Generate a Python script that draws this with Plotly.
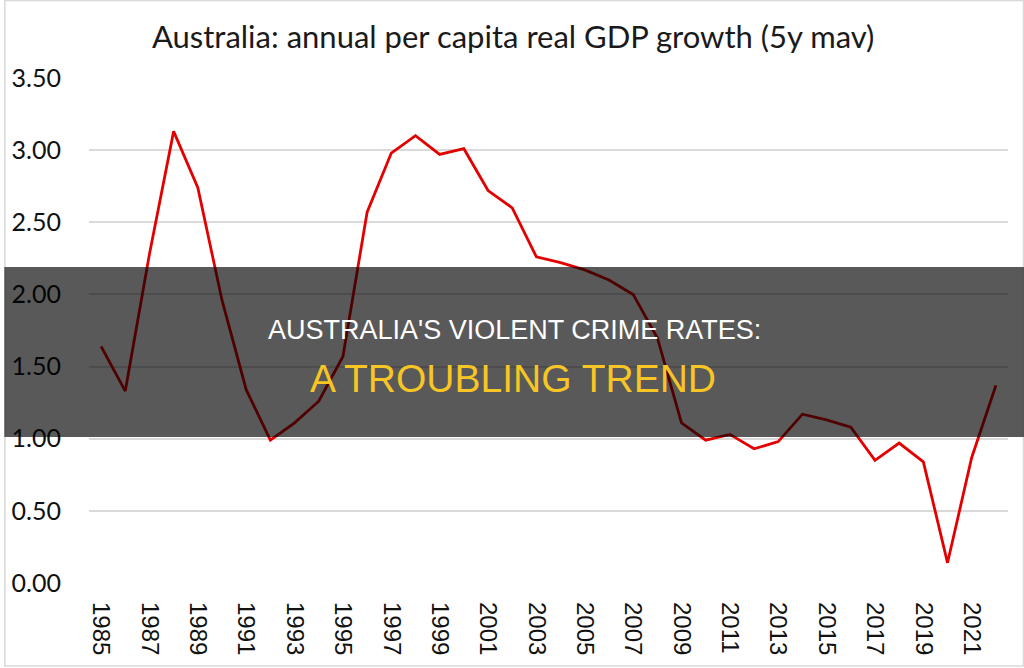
import plotly.graph_objects as go

years = list(range(1985, 2023))
growth = [1.64, 1.33, 2.28, 3.13, 2.74, 1.96, 1.34, 0.99, 1.11, 1.26,
          1.57, 2.57, 2.98, 3.10, 2.97, 3.01, 2.72, 2.60, 2.26, 2.22,
          2.17, 2.10, 2.00, 1.70, 1.11, 0.99, 1.03, 0.93, 0.98, 1.17,
          1.13, 1.08, 0.85, 0.97, 0.84, 0.14, 0.87, 1.37]
x_ticks = list(range(1985, 2022, 2))
y_ticks = [0, 0.5, 1.0, 1.5, 2.0, 2.5, 3.0, 3.5]
y_tick_text = ["%.2f" % v for v in y_ticks]

title_text = "Australia: annual per capita real GDP growth (5y mav)"
overlay_line1 = "AUSTRALIA'S VIOLENT CRIME RATES:"
overlay_line2 = "A TROUBLING TREND"

W, H = 1024, 668
ML, MR, MT, MB = 85, 16, 78, 85
PW, PH = W - ML - MR, H - MT - MB


def px_x(p):
    return (p - ML) / PW


def px_y(p):
    return (H - MB - p) / PH


fig = go.Figure()
fig.add_trace(go.Scatter(
    x=years, y=growth, mode="lines",
    line=dict(color="#e30000", width=2.8),
    showlegend=False, hoverinfo="skip"))

fig.update_layout(
    width=W, height=H,
    margin=dict(l=ML, r=MR, t=MT, b=MB),
    paper_bgcolor="white", plot_bgcolor="white",
    title=dict(text=title_text, x=px_x(511), xanchor="center", xref="paper",
               y=1 - 37 / H, yanchor="middle",
               font=dict(family="Lato", size=31, color="#1a1a1a")),
    xaxis=dict(range=[1984.5, 2022.5], tickmode="array", tickvals=x_ticks,
               ticktext=[str(v) for v in x_ticks], tickangle=90,
               showgrid=False, zeroline=False, showline=False, ticks="",
               ticklabelstandoff=18,
               tickfont=dict(family="Liberation Sans", size=24, color="#111111")),
    yaxis=dict(range=[0, 3.5], tickmode="array", tickvals=y_ticks,
               ticktext=y_tick_text, showgrid=True, gridcolor="#d9d9d9",
               gridwidth=1.5, zeroline=False, showline=False, ticks="",
               ticklabelstandoff=27,
               tickfont=dict(family="Lato", size=25, color="#111111")),
    shapes=[
        dict(type="rect", xref="paper", yref="paper",
             x0=px_x(0.5), x1=px_x(1023.5), y0=px_y(666), y1=px_y(0.5),
             line=dict(color="#d9d9d9", width=1.5), fillcolor="rgba(0,0,0,0)",
             layer="below"),
        dict(type="rect", xref="paper", yref="paper",
             x0=px_x(0), x1=px_x(W), y0=px_y(437), y1=px_y(267),
             line=dict(width=0), fillcolor="rgba(0,0,0,0.65)", layer="above"),
    ],
    annotations=[
        dict(text=overlay_line1, xref="paper", yref="paper",
             x=px_x(512), y=px_y(330), xanchor="center", yanchor="middle",
             showarrow=False,
             font=dict(family="Liberation Sans", size=27, color="white")),
        dict(text=overlay_line2, xref="paper", yref="paper",
             x=px_x(511), y=px_y(378), xanchor="center", yanchor="middle",
             showarrow=False,
             font=dict(family="Liberation Sans", size=39, color="#f7c524")),
    ],
)

fig.write_html("out.html")
